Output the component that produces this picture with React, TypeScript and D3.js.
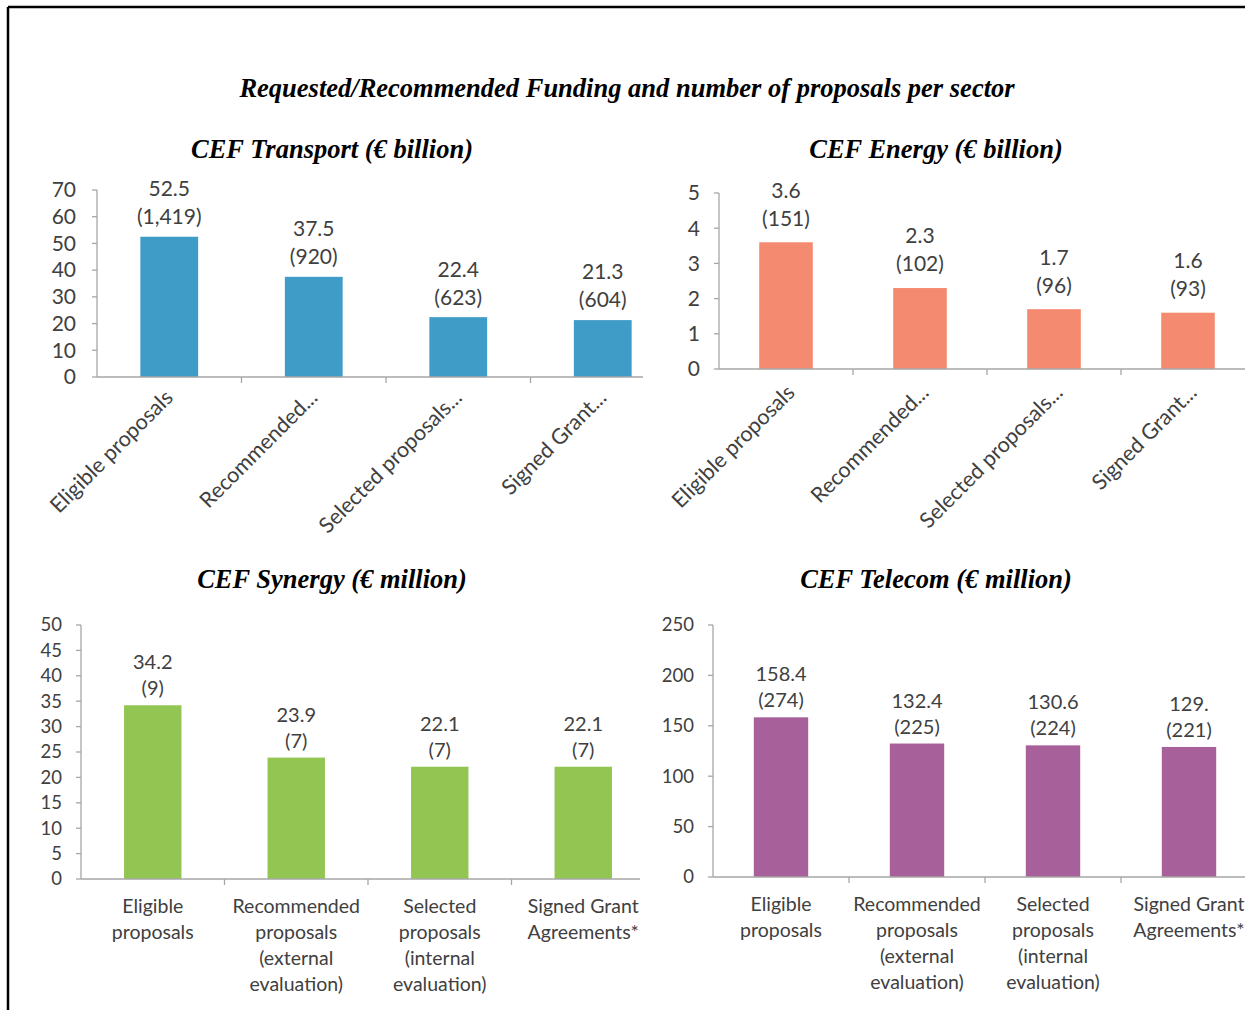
import React from "react";
import * as d3 from "d3";

// ---------- DATA ----------
const mainTitle = "Requested/Recommended Funding and number of proposals per sector";

const rotatedCategories = ["Eligible proposals", "Recommended...", "Selected proposals...", "Signed Grant..."];
const wrappedCategories = [
  ["Eligible", "proposals"],
  ["Recommended", "proposals", "(external", "evaluation)"],
  ["Selected", "proposals", "(internal", "evaluation)"],
  ["Signed Grant", "Agreements*"],
];

const transportTitle = "CEF Transport (€ billion)";
const transportValues = [52.5, 37.5, 22.4, 21.3];
const transportValueLabels = ["52.5", "37.5", "22.4", "21.3"];
const transportCounts = ["(1,419)", "(920)", "(623)", "(604)"];
const transportTicks = [0, 10, 20, 30, 40, 50, 60, 70];

const energyTitle = "CEF Energy (€ billion)";
const energyValues = [3.6, 2.3, 1.7, 1.6];
const energyValueLabels = ["3.6", "2.3", "1.7", "1.6"];
const energyCounts = ["(151)", "(102)", "(96)", "(93)"];
const energyTicks = [0, 1, 2, 3, 4, 5];

const synergyTitle = "CEF Synergy (€ million)";
const synergyValues = [34.2, 23.9, 22.1, 22.1];
const synergyValueLabels = ["34.2", "23.9", "22.1", "22.1"];
const synergyCounts = ["(9)", "(7)", "(7)", "(7)"];
const synergyTicks = [0, 5, 10, 15, 20, 25, 30, 35, 40, 45, 50];

const telecomTitle = "CEF Telecom (€ million)";
const telecomValues = [158.4, 132.4, 130.6, 129.0];
const telecomValueLabels = ["158.4", "132.4", "130.6", "129."];
const telecomCounts = ["(274)", "(225)", "(224)", "(221)"];
const telecomTicks = [0, 50, 100, 150, 200, 250];

// ---------- STYLE ----------
const FONT = "Lato, 'Open Sans', sans-serif";
const SERIF = "'Liberation Serif', 'Times New Roman', serif";
const AXIS = "#a6a6a6";
const TEXT = "#404040";

type PanelProps = {
  title: string;
  titleX: number;
  titleY: number;
  values: number[];
  valueLabels: string[];
  counts: string[];
  ticks: number[];
  color: string;
  xRange: [number, number];
  axisEnd: number;
  yRange: [number, number];
  tickLabelX: number;
  tickFont: number;
  dataFont: number;
  catFont: number;
  labelGap: number;
  lineH: number;
  rotated: boolean;
  rotDx: number;
  rotY: number;
  wrapY: number;
};

function Panel(p: PanelProps) {
  const x = d3.scaleBand<number>().domain(d3.range(p.values.length)).range(p.xRange).paddingInner(0.6).paddingOuter(0.3);
  const band = d3.scaleBand<number>().domain(d3.range(p.values.length)).range(p.xRange);
  const y = d3.scaleLinear().domain([0, d3.max(p.ticks) as number]).range(p.yRange);
  const y0 = y(0);
  const x0 = p.xRange[0];
  return (
    <g>
      <text x={p.titleX} y={p.titleY} textAnchor="middle" fontFamily={SERIF} fontWeight="bold" fontStyle="italic" fontSize={26.5} fill="#000">
        {p.title}
      </text>
      {/* y axis */}
      <line x1={x0} x2={x0} y1={y(d3.max(p.ticks) as number)} y2={y0} stroke={AXIS} strokeWidth={1.3} />
      {p.ticks.map((t) => (
        <g key={t}>
          <line x1={x0 - 5} x2={x0} y1={y(t)} y2={y(t)} stroke={AXIS} strokeWidth={1.3} />
          <text x={p.tickLabelX} y={y(t)} dy="0.35em" textAnchor="end" fontFamily={FONT} fontSize={p.tickFont} fill={TEXT}>
            {t}
          </text>
        </g>
      ))}
      {/* bars */}
      {p.values.map((v, i) => (
        <rect key={i} x={x(i)} y={y(v)} width={x.bandwidth()} height={y0 - y(v)} fill={p.color} />
      ))}
      {/* x axis */}
      <line x1={x0} x2={p.axisEnd} y1={y0} y2={y0} stroke={AXIS} strokeWidth={1.3} />
      {d3.range(1, p.values.length).map((i) => (
        <line key={i} x1={band(i)} x2={band(i)} y1={y0} y2={y0 + 6} stroke={AXIS} strokeWidth={1.3} />
      ))}
      {/* data labels */}
      {p.values.map((v, i) => {
        const cx = (band(i) as number) + band.bandwidth() / 2;
        const top = y(v);
        return (
          <g key={i} fontFamily={FONT} fontSize={p.dataFont} fill={TEXT} textAnchor="middle">
            <text x={cx} y={top - p.labelGap - p.lineH} dy="0.35em">{p.valueLabels[i]}</text>
            <text x={cx} y={top - p.labelGap} dy="0.35em">{p.counts[i]}</text>
          </g>
        );
      })}
      {/* category labels */}
      {p.rotated
        ? rotatedCategories.map((c, i) => {
            const cx = (band(i) as number) + band.bandwidth() / 2 + p.rotDx;
            return (
              <text key={i} x={cx} y={p.rotY} transform={`rotate(-45 ${cx} ${p.rotY})`} textAnchor="end" fontFamily={FONT} fontSize={p.catFont} fill={TEXT}>
                {c}
              </text>
            );
          })
        : wrappedCategories.map((lines, i) => {
            const cx = (band(i) as number) + band.bandwidth() / 2;
            return (
              <text key={i} textAnchor="middle" fontFamily={FONT} fontSize={p.catFont} fill={TEXT}>
                {lines.map((l, j) => (
                  <tspan key={j} x={cx} y={p.wrapY + j * 26} dy="0.35em">{l}</tspan>
                ))}
              </text>
            );
          })}
    </g>
  );
}

export default function App() {
  return (
    <svg width={1245} height={1010} style={{ position: "absolute", left: 0, top: 0, background: "#fff" }}>
      <rect x={0} y={0} width={1245} height={1010} fill="#fff" />
      {/* frame */}
      <line x1={8} x2={1245} y1={7} y2={7} stroke="#000" strokeWidth={2.5} />
      <line x1={8} x2={8} y1={7} y2={1010} stroke="#000" strokeWidth={2.5} />

      <text x={627} y={97} textAnchor="middle" fontFamily={SERIF} fontWeight="bold" fontStyle="italic" fontSize={26.5} fill="#000">
        {mainTitle}
      </text>

      <Panel title={transportTitle} titleX={332} titleY={158} values={transportValues} valueLabels={transportValueLabels}
        counts={transportCounts} ticks={transportTicks} color="#3f9cc6" xRange={[97, 675]} axisEnd={643} yRange={[377, 190]}
        tickLabelX={76} tickFont={21} dataFont={21} catFont={21.5} labelGap={20} lineH={28} rotated={true} rotDx={5} rotY={399} wrapY={0} />

      <Panel title={energyTitle} titleX={936} titleY={158} values={energyValues} valueLabels={energyValueLabels}
        counts={energyCounts} ticks={energyTicks} color="#f48b70" xRange={[719, 1255]} axisEnd={1245} yRange={[369, 193]}
        tickLabelX={700} tickFont={21} dataFont={21} catFont={21.5} labelGap={24} lineH={28} rotated={true} rotDx={10} rotY={394} wrapY={0} />

      <Panel title={synergyTitle} titleX={332} titleY={588} values={synergyValues} valueLabels={synergyValueLabels}
        counts={synergyCounts} ticks={synergyTicks} color="#92c551" xRange={[81, 655]} axisEnd={640} yRange={[879, 625]}
        tickLabelX={62} tickFont={18.5} dataFont={20} catFont={19.5} labelGap={17} lineH={26} rotated={false} rotDx={0} rotY={0} wrapY={906} />

      <Panel title={telecomTitle} titleX={936} titleY={588} values={telecomValues} valueLabels={telecomValueLabels}
        counts={telecomCounts} ticks={telecomTicks} color="#a8609b" xRange={[713, 1257]} axisEnd={1245} yRange={[877, 625]}
        tickLabelX={694} tickFont={18.5} dataFont={20} catFont={19.5} labelGap={17} lineH={26} rotated={false} rotDx={0} rotY={0} wrapY={904} />
    </svg>
  );
}
